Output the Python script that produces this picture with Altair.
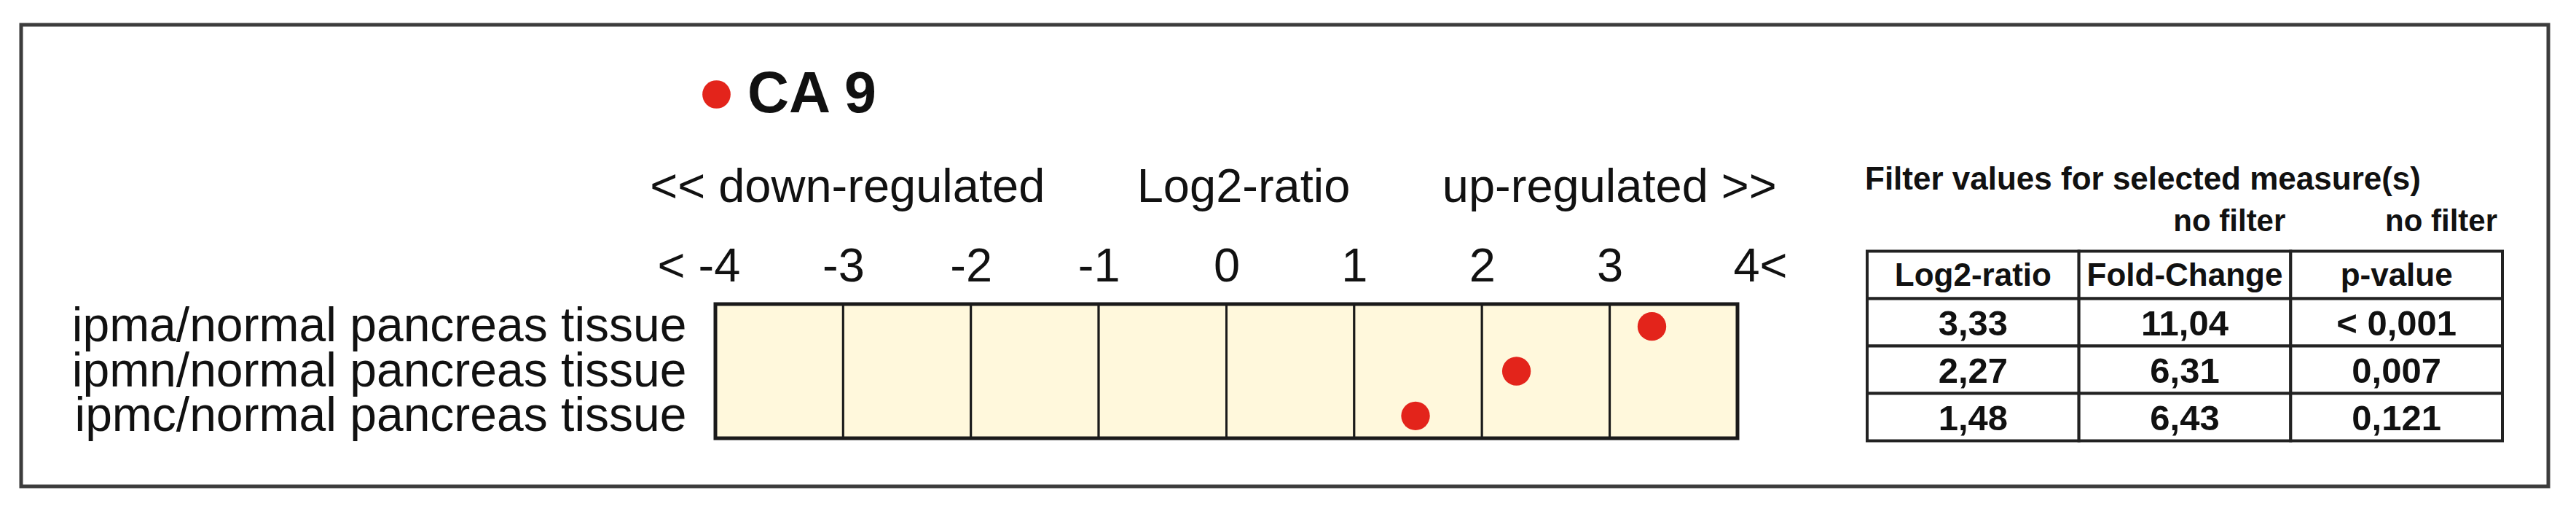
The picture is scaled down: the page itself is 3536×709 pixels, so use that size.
import json
import altair as alt
import pandas as pd

# ---------------- data ----------------
gene = ["CA 9"]
comparisons = [
    "ipma/normal pancreas tissue",
    "ipmn/normal pancreas tissue",
    "ipmc/normal pancreas tissue",
]
log2_ratio = [3.33, 2.27, 1.48]
fold_change = [11.04, 6.31, 6.43]
p_value = ["< 0,001", "0,007", "0,121"]
axis_ticks = [-4, -3, -2, -1, 0, 1, 2, 3, 4]
axis_caption = ["<< down-regulated", "Log2-ratio", "up-regulated >>"]
table_columns = ["Log2-ratio", "Fold-Change", "p-value"]
column_filters = ["", "no filter", "no filter"]
table_title = ["Filter values for selected measure(s)"]

# ---------------- layout (pixels inside the frame) ----------------
FRAME_W, FRAME_H = 3469, 633
BOX_X0, BOX_X1 = 953, 2356
BOX_Y0, BOX_Y1 = 383, 567
TAB_X0, TAB_X1 = 2534, 3406
TAB_Y0, TAB_Y1 = 310.5, 570.5
FONT = "Liberation Sans"
INK = "#111111"
RED = "#e3241b"
NB = "\u00a0"


def comma(v):
    return f"{v:.2f}".replace(".", ",")


n = len(comparisons)
points_df = pd.DataFrame({
    "row": list(range(n)),
    "comparison": comparisons,
    "log2": log2_ratio,
    "gene": gene * n,
})
cells_df = pd.DataFrame({
    "lo": axis_ticks[:-1],
    "hi": axis_ticks[1:],
    "y0": -0.5,
    "y1": n - 0.5,
})
outline_df = pd.DataFrame({
    "lo": [axis_ticks[0]], "hi": [axis_ticks[-1]], "y0": [-0.5], "y1": [n - 0.5]
})

xs = alt.Scale(domain=[axis_ticks[0], axis_ticks[-1]], range=[BOX_X0, BOX_X1],
               nice=False, zero=False)
ys = alt.Scale(domain=[-0.5, n - 0.5], range=[BOX_Y0, BOX_Y1], nice=False, zero=False)

lo_t, hi_t = axis_ticks[0], axis_ticks[-1]
label_expr_x = (
    f"datum.value == {lo_t} ? '< ' + datum.value : "
    f"datum.value == {hi_t} ? datum.value + '<' : '' + datum.value"
)
x_axis = alt.Axis(
    orient="top", offset=-BOX_Y0, values=axis_ticks, labelExpr=label_expr_x,
    ticks=False, domain=False, grid=False, labelFlush=False, labelOverlap=False,
    labelFont=FONT, labelFontSize=65, labelColor=INK, labelBaseline="alphabetic",
    labelPadding=32,
    labelOffset={
        "condition": [
            {"test": f"datum.value == {lo_t}", "value": -23},
            {"test": f"datum.value == {hi_t}", "value": 31},
        ],
        "value": 0,
    },
    title=(NB * 7).join(axis_caption), titleFont=FONT, titleFontSize=65,
    titleFontWeight="normal", titleColor=INK, titleX=1636, titleY=242.5 - BOX_Y0,
    titleAlign="center", titleBaseline="alphabetic",
)
y_axis = alt.Axis(
    orient="left", offset=-BOX_X0, values=list(range(n)),
    labelExpr=f"{json.dumps(comparisons)}[datum.value]",
    ticks=False, domain=False, grid=False, labelFont=FONT, labelFontSize=66,
    labelColor=INK, labelPadding=40, labelLimit=0, labelBaseline="middle",
    labelFlush=False, labelOverlap=False, title=None,
)

cells = alt.Chart(cells_df).mark_rect(fill="#FFF8DC", stroke="#1a1a1a", strokeWidth=3).encode(
    x=alt.X("lo:Q", scale=xs, axis=x_axis),
    x2="hi:Q",
    y=alt.Y("y0:Q", scale=ys, axis=y_axis),
    y2="y1:Q",
)
outline = alt.Chart(outline_df).mark_rect(fillOpacity=0, stroke="#1a1a1a", strokeWidth=5).encode(
    x=alt.X("lo:Q", scale=xs, axis=x_axis),
    x2="hi:Q",
    y=alt.Y("y0:Q", scale=ys, axis=y_axis),
    y2="y1:Q",
)
points = alt.Chart(points_df).mark_circle(size=1550, opacity=1).encode(
    x=alt.X("log2:Q", scale=xs, axis=x_axis),
    y=alt.Y("row:Q", scale=ys, axis=y_axis),
    color=alt.Color(
        "gene:N",
        scale=alt.Scale(domain=gene, range=[RED]),
        legend=alt.Legend(
            orient="none", legendX=915, legendY=56, title=None, padding=0,
            labelFont=FONT, labelFontSize=79, labelFontWeight="bold", labelColor=INK,
            labelLimit=0, labelOffset=3, symbolType="circle", symbolSize=1500,
            symbolStrokeWidth=0, symbolOpacity=1,
        ),
    ),
)
strip = alt.layer(cells, outline, points)

# ---------------- table ----------------
values = [[comma(v) for v in log2_ratio], [comma(v) for v in fold_change], p_value]
recs = []
for j, c in enumerate(table_columns):
    recs.append({"col": c, "row": "__header__", "text": c, "kind": "header"})
    for i, comp in enumerate(comparisons):
        recs.append({"col": c, "row": comp, "text": values[j][i], "kind": "value"})
table_df = pd.DataFrame(recs)
filters_df = pd.DataFrame({"col": table_columns, "text": column_filters})
title_df = pd.DataFrame({"text": table_title})

tx = alt.Scale(domain=table_columns, range=[TAB_X0, TAB_X1], paddingInner=0, paddingOuter=0)
ty = alt.Scale(domain=["__header__"] + comparisons, range=[TAB_Y0, TAB_Y1],
               paddingInner=0, paddingOuter=0)

tcells = alt.Chart(table_df).mark_rect(fill="white", stroke="#222222", strokeWidth=4).encode(
    x=alt.X("col:N", scale=tx, axis=None),
    y=alt.Y("row:N", scale=ty, axis=None),
)
thead = alt.Chart(table_df).transform_filter(alt.datum.kind == "header").mark_text(
    font=FONT, fontSize=44, fontWeight="bold", color=INK, baseline="alphabetic", dy=15
).encode(
    x=alt.X("col:N", scale=tx, axis=None),
    y=alt.Y("row:N", scale=ty, axis=None),
    text="text:N",
)
tvals = alt.Chart(table_df).transform_filter(alt.datum.kind == "value").mark_text(
    font=FONT, fontSize=49, fontWeight="bold", color=INK, baseline="alphabetic", dy=18
).encode(
    x=alt.X("col:N", scale=tx, axis=None),
    y=alt.Y("row:N", scale=ty, axis=None),
    text="text:N",
)
tfilter = alt.Chart(filters_df).mark_text(
    font=FONT, fontSize=42, fontWeight="bold", color=INK, baseline="alphabetic",
    align="right", dx=-7,
).encode(
    x=alt.X("col:N", scale=tx, axis=None, bandPosition=1),
    y=alt.value(282.5),
    text="text:N",
)
ttitle = alt.Chart(title_df).mark_text(
    font=FONT, fontSize=44, fontWeight="bold", color=INK, baseline="alphabetic", align="left"
).encode(
    x=alt.value(TAB_X0 - 3),
    y=alt.value(225.5),
    text="text:N",
)
table = alt.layer(tcells, thead, tvals, tfilter, ttitle)

chart = (
    alt.layer(strip, table)
    .resolve_scale(x="independent", y="independent")
    .properties(
        width=FRAME_W, height=FRAME_H,
        autosize=alt.AutoSizeParams(type="none"),
        padding={"left": 21, "top": 26, "right": 30, "bottom": 34},
        background="white",
    )
    .configure_view(stroke="#3c3c3c", strokeWidth=5, fill="white")
)

chart.save("out.html", embed_options={"renderer": "svg", "actions": False})
